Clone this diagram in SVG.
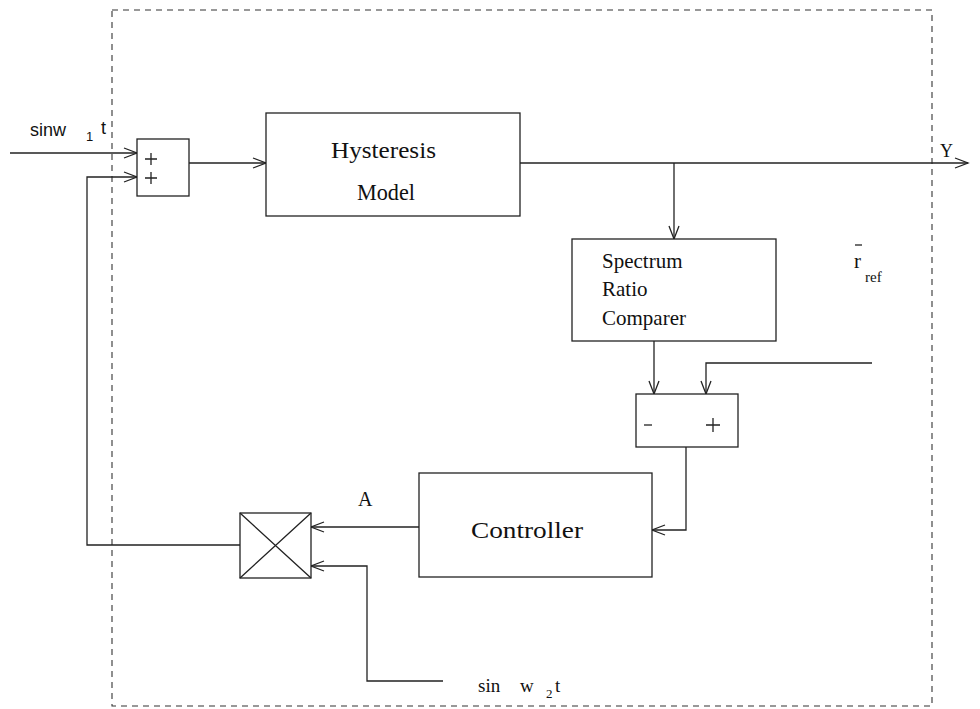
<svg xmlns="http://www.w3.org/2000/svg" width="980" height="709" viewBox="0 0 980 709">
<defs>
<style>
.ln{fill:none;stroke:#222;stroke-width:1.3}
.bx{fill:#fff;stroke:#222;stroke-width:1.3}
.dash{fill:none;stroke:#333;stroke-width:1.1;stroke-dasharray:6 5}
.t{font-family:"Liberation Serif","Times New Roman",serif;fill:#111}
.s{font-family:"Liberation Sans",Arial,sans-serif;fill:#111}
</style>
<marker id="ar" viewBox="-14 -7 16 14" refX="0" refY="0" markerWidth="16" markerHeight="14" markerUnits="userSpaceOnUse" orient="auto">
<path d="M-13,-5 L0,0 L-13,5" fill="none" stroke="#222" stroke-width="1.3"/>
</marker>
</defs>
<rect id="boundary" class="dash" x="112" y="10" width="820" height="696"/>
<g id="connectors">
<path class="ln" d="M10,153 H137" marker-end="url(#ar)"/>
<path class="ln" d="M240,545 H87 V177 H137" marker-end="url(#ar)"/>
<path class="ln" d="M189,163 H266" marker-end="url(#ar)"/>
<path class="ln" d="M520,163 H968" marker-end="url(#ar)"/>
<path class="ln" d="M674,163 V239" marker-end="url(#ar)"/>
<path class="ln" d="M654,341 V394" marker-end="url(#ar)"/>
<path class="ln" d="M872,363 H706 V394" marker-end="url(#ar)"/>
<path class="ln" d="M686,447 V530 H652" marker-end="url(#ar)"/>
<path class="ln" d="M419,527 H311" marker-end="url(#ar)"/>
<path class="ln" d="M443,681 H367 V566 H311" marker-end="url(#ar)"/>
</g>
<g id="summer">
<rect class="bx" x="137" y="139" width="52" height="57"/>
<path class="ln" d="M145,159 H157 M151,153 V165 M145,178 H157 M151,172 V184"/>
</g>
<g id="hysteresis">
<rect class="bx" x="266" y="113" width="254" height="103"/>
<text class="t" x="331" y="158" font-size="23" textLength="105" lengthAdjust="spacingAndGlyphs">Hysteresis</text>
<text class="t" x="357" y="200" font-size="23" textLength="58" lengthAdjust="spacingAndGlyphs">Model</text>
</g>
<g id="spectrum">
<rect class="bx" x="572" y="239" width="204" height="102"/>
<text class="t" x="602" y="268" font-size="21">Spectrum</text>
<text class="t" x="602" y="296" font-size="21">Ratio</text>
<text class="t" x="602" y="325" font-size="21">Comparer</text>
</g>
<g id="comparator">
<rect class="bx" x="636" y="394" width="102" height="53"/>
<path class="ln" d="M644,425 H652"/>
<path class="ln" d="M706,425 H720 M713,418 V432" stroke-width="1.8"/>
</g>
<g id="controller">
<rect class="bx" x="419" y="473" width="233" height="104"/>
<text class="t" x="471" y="538" font-size="24" textLength="112" lengthAdjust="spacingAndGlyphs">Controller</text>
</g>
<g id="multiplier">
<rect class="bx" x="240" y="513" width="71" height="65"/>
<path class="ln" d="M240,513 L311,578 M311,513 L240,578"/>
</g>
<g id="labels">
<text class="s" x="30" y="136" font-size="18">sinw<tspan x="86" y="141" font-size="13">1</tspan><tspan x="101" y="134">t</tspan></text>
<text class="t" x="940" y="157" font-size="18">Y</text>
<text class="t" x="358" y="506" font-size="20">A</text>
<text class="t" x="854" y="268" font-size="21">r</text>
<path class="ln" d="M855,245 H862" stroke-width="1.1"/>
<text class="t" x="865" y="282" font-size="15">ref</text>
<text class="t" x="478" y="692" font-size="19">sin<tspan x="520">w</tspan><tspan x="546" y="698" font-size="13">2</tspan><tspan x="555" y="692">t</tspan></text>
</g>
</svg>
